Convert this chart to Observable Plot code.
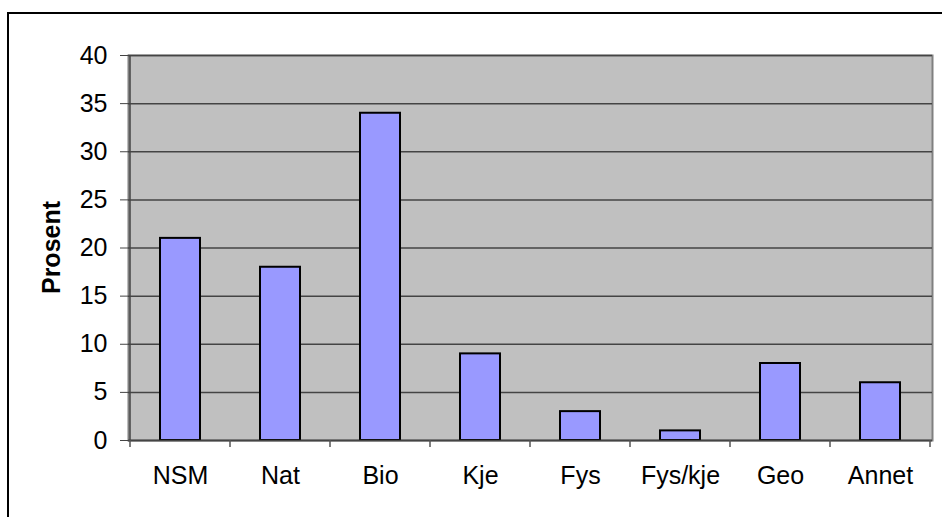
<!DOCTYPE html>
<html>
<head>
<meta charset="utf-8">
<script src="https://cdn.jsdelivr.net/npm/d3@7"></script>
<script src="https://cdn.jsdelivr.net/npm/@observablehq/plot@0.6"></script>
<style>
  html, body { margin: 0; padding: 0; background: #fff; overflow: hidden; }
  #wrap { position: relative; width: 942px; height: 517px; overflow: hidden; }
  #border { position: absolute; left: 7px; top: 12px; width: 1000px; height: 600px; border: 2px solid #000; box-sizing: border-box; }
  #chart { position: absolute; left: 0; top: 0; }
  #chart svg text { font-family: Arial, "Liberation Sans", sans-serif; font-size: 25px; fill: #000; }
</style>
</head>
<body>
<div id="wrap"><div id="border"></div><div id="chart"></div></div>
<script>
const categories = ["NSM", "Nat", "Bio", "Kje", "Fys", "Fys/kje", "Geo", "Annet"];
const values = [21, 18, 34, 9, 3, 1, 8, 6];
const yTicks = [0, 5, 10, 15, 20, 25, 30, 35, 40];
const yLabel = "Prosent";

const data = categories.map((c, i) => ({cat: c, value: values[i]}));

const W = 942, H = 517;
const mL = 128, mR = 10, mT = 55, mB = 77;

const chart = Plot.plot({
  width: W,
  height: H,
  marginLeft: mL,
  marginRight: mR,
  marginTop: mT,
  marginBottom: mB,
  style: {fontSize: "25px", fontFamily: "Arial, 'Liberation Sans', sans-serif", color: "#000", background: "transparent"},
  x: {domain: categories, paddingInner: 0.6, paddingOuter: 0.3, label: null},
  y: {domain: [0, 40], label: null},
  marks: [
    Plot.frame({fill: "#C0C0C0", stroke: "#808080", strokeWidth: 2}),
    Plot.gridY(yTicks, {stroke: "#444", strokeOpacity: 1, strokeWidth: 1.5}),
    Plot.barY(data, {x: "cat", y: "value", fill: "#9999FF", stroke: "#000", strokeWidth: 2}),
    Plot.ruleY([0], {stroke: "#444", strokeWidth: 1.5}),
    Plot.axisY(yTicks, {tickSize: 8, tickPadding: 13, stroke: "#444", label: null}),
    Plot.axisX({tickSize: 0, tickPadding: 26, label: null})
  ]
});

const xs = chart.scale("x");
const ys = chart.scale("y");
const svg = d3.select(chart);
const y0 = ys.apply(0);
const half = (xs.step - xs.bandwidth) / 2;
const edges = categories.map(c => xs.apply(c) - half);
edges.push(xs.apply(categories[categories.length - 1]) + xs.bandwidth + half);

// left axis line
svg.append("line")
  .attr("x1", edges[0]).attr("x2", edges[0])
  .attr("y1", ys.apply(40)).attr("y2", y0)
  .attr("stroke", "#444").attr("stroke-width", 1.5);

// boundary tick marks below the axis, at band edges
svg.append("g").selectAll("line").data(edges).join("line")
  .attr("x1", d => d).attr("x2", d => d)
  .attr("y1", y0).attr("y2", y0 + 7)
  .attr("stroke", "#555").attr("stroke-width", 1.5);

// y axis title
svg.append("text")
  .attr("transform", `translate(${mL - 77},${(ys.apply(0) + ys.apply(40)) / 2}) rotate(-90)`)
  .attr("text-anchor", "middle")
  .attr("dy", "0.35em")
  .style("font-weight", "bold")
  .text(yLabel);

document.getElementById("chart").appendChild(chart);
</script>
</body>
</html>
